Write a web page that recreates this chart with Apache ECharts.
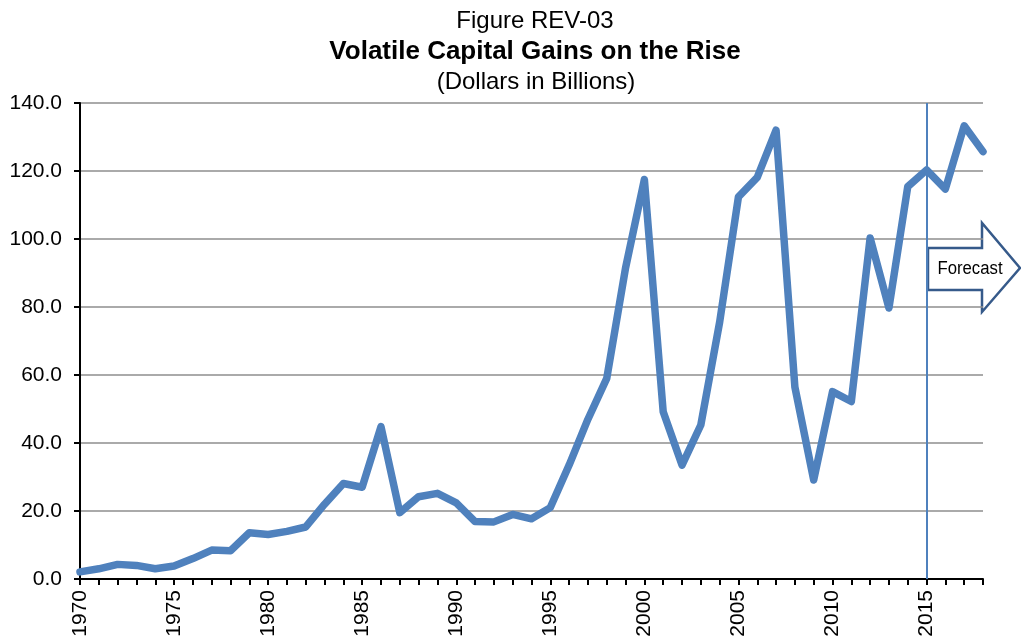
<!DOCTYPE html>
<html>
<head>
<meta charset="utf-8">
<script src="https://cdn.jsdelivr.net/npm/echarts@6/dist/echarts.min.js"></script>
<style>
html,body{margin:0;padding:0;background:#fff;}
#chart{width:1021px;height:641px;}
</style>
</head>
<body>
<div id="chart"></div>
<script>
const years = ['1970','1971','1972','1973','1974','1975','1976','1977','1978','1979',
  '1980','1981','1982','1983','1984','1985','1986','1987','1988','1989',
  '1990','1991','1992','1993','1994','1995','1996','1997','1998','1999',
  '2000','2001','2002','2003','2004','2005','2006','2007','2008','2009',
  '2010','2011','2012','2013','2014','2015','2016','2017','2018'];
const capitalGains = [2.1, 3.0, 4.3, 4.0, 3.0, 3.8, 6.0, 8.5, 8.3, 13.6,
  13.1, 14.0, 15.3, 22.0, 28.1, 27.0, 44.8, 19.5, 24.2, 25.2,
  22.4, 16.9, 16.8, 19.0, 17.7, 21.0, 33.5, 47.0, 59.0, 91.5,
  117.5, 49.2, 33.5, 45.3, 75.5, 112.4, 118.1, 132.0, 56.5, 29.1,
  55.1, 52.2, 100.3, 79.7, 115.4, 120.3, 114.7, 133.3, 125.7];
const forecastStart = '2015';
const titleLines = ['Figure REV-03', 'Volatile Capital Gains on the Rise', '(Dollars in Billions)'];
const forecastLabel = 'Forecast';

const chart = echarts.init(document.getElementById('chart'), null, {renderer: 'canvas'});
const font = 'Arial, "Liberation Sans", Helvetica, sans-serif';
chart.setOption({
  animation: false,
  backgroundColor: '#ffffff',
  textStyle: {fontFamily: font},
  title: [
    {text: titleLines[0], left: 530, top: 4, textAlign: 'center',
     textStyle: {fontFamily: font, fontSize: 24, fontWeight: 'normal', color: '#000'}},
    {text: titleLines[1], left: 530, top: 34, textAlign: 'center',
     textStyle: {fontFamily: font, fontSize: 26, fontWeight: 'bold', color: '#000'}},
    {text: titleLines[2], left: 531, top: 65, textAlign: 'center',
     textStyle: {fontFamily: font, fontSize: 24, fontWeight: 'normal', color: '#000'}}
  ],
  grid: {left: 80, right: 38, top: 103, bottom: 62, containLabel: false},
  xAxis: {
    type: 'category',
    data: years,
    boundaryGap: false,
    axisLine: {show: true, lineStyle: {color: '#000', width: 2}},
    axisTick: {show: true, interval: 0, length: 6, lineStyle: {color: '#000', width: 2}},
    axisLabel: {interval: 4, rotate: 90, margin: 11, fontSize: 21, color: '#000', fontFamily: font},
    splitLine: {show: false}
  },
  yAxis: {
    type: 'value',
    min: 0, max: 140, interval: 20,
    axisLine: {show: true, lineStyle: {color: '#000', width: 2}},
    axisTick: {show: true, length: 6, lineStyle: {color: '#000', width: 2}},
    axisLabel: {margin: 18, fontSize: 21, color: '#000', fontFamily: font,
      formatter: v => v.toFixed(1)},
    splitLine: {show: true, lineStyle: {color: '#8e8e8e', width: 1.5}}
  },
  series: [{
    type: 'line',
    data: capitalGains,
    symbol: 'none',
    lineStyle: {color: '#4f81bd', width: 7.5, join: 'round', cap: 'round'},
    markLine: {
      silent: true,
      symbol: ['none', 'none'],
      label: {show: false},
      lineStyle: {color: '#4f81bd', width: 2, type: 'solid'},
      data: [{xAxis: forecastStart}]
    },
    z: 3
  }],
  graphic: [{
    type: 'group',
    z: 100,
    children: [{
      type: 'polygon',
      shape: {points: [[928,248],[982,248],[982,223],[1020,268],[982,312],[982,290],[928,290]]},
      style: {fill: '#ffffff', stroke: '#365a8a', lineWidth: 2.5, lineJoin: 'miter'}
    }, {
      type: 'text',
      x: 970, y: 269,
      scaleX: 0.93,
      style: {text: forecastLabel, fontSize: 18, fontFamily: font, fill: '#000',
        align: 'center', verticalAlign: 'middle'}
    }]
  }]
});
</script>
</body>
</html>
